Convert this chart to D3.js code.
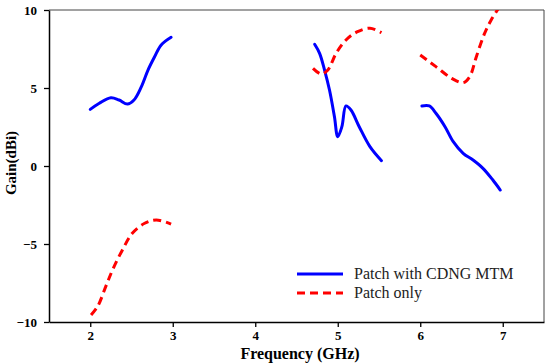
<!DOCTYPE html>
<html>
<head>
<meta charset="utf-8">
<script src="https://cdn.jsdelivr.net/npm/d3@7"></script>
<style>
  body { margin: 0; background: #fff; }
</style>
</head>
<body>
<div id="vis"></div>
<script>
// Patch with CDNG MTM (blue), three measured bands
const mtmBand1 = [[2.0,3.63],[2.11,4.02],[2.25,4.38],[2.35,4.23],[2.45,3.97],[2.53,4.23],[2.62,5.09],[2.70,6.15],[2.78,7.0],[2.86,7.76],[2.98,8.25]];
const mtmBand2 = [[4.72,7.80],[4.78,7.22],[4.84,6.15],[4.90,4.87],[4.96,3.16],[5.00,1.88],[5.05,2.52],[5.10,3.85],[5.16,3.59],[5.26,2.52],[5.39,1.24],[5.53,0.34]];
const mtmBand3 = [[6.02,3.85],[6.11,3.85],[6.19,3.38],[6.30,2.52],[6.40,1.56],[6.52,0.81],[6.64,0.38],[6.76,-0.15],[6.88,-0.90],[6.97,-1.54]];

// Patch only (red dashed)
const patchBand1 = [[2.01,-9.55],[2.09,-9.0],[2.19,-7.7],[2.27,-6.67],[2.39,-5.38],[2.51,-4.31],[2.66,-3.67],[2.80,-3.46],[2.98,-3.72]];
const patchBand2 = [[4.70,6.26],[4.80,5.90],[4.88,6.15],[4.98,7.22],[5.10,8.08],[5.24,8.61],[5.39,8.83],[5.53,8.55]];
const patchBand3 = [[6.00,7.12],[6.19,6.37],[6.38,5.62],[6.52,5.34],[6.60,5.73],[6.68,7.01],[6.78,8.50],[6.86,9.36],[6.96,10.2]];

const xTicks = [2, 3, 4, 5, 6, 7];
const yTicks = [-10, -5, 0, 5, 10];
const legendNames = ["Patch with CDNG MTM", "Patch only"];

const serif = "'Liberation Serif', 'Times New Roman', Times, serif";
const W = 550, H = 363;
const margin = { top: 10, right: 6, bottom: 41, left: 49 };
const width = W - margin.left - margin.right;
const height = H - margin.top - margin.bottom;

const svg = d3.select('#vis').append('svg')
  .attr('width', W).attr('height', H)
  .attr('font-family', serif);

svg.append("defs").append("clipPath").attr("id", "clip")
  .append("rect").attr("width", width).attr("height", height);

const g = svg.append("g").attr("transform", `translate(${margin.left},${margin.top})`);

const x = d3.scaleLinear().domain([1.5, 7.5]).range([0, width]);
const y = d3.scaleLinear().domain([-10, 10]).range([height, 0]);

// frame top/right
g.append("path")
  .attr("d", `M0,0H${width}V${height}`)
  .attr("fill", "none").attr("stroke", "#444").attr("stroke-width", 1);

const gx = g.append("g").attr("transform", `translate(0,${height})`)
  .call(d3.axisBottom(x).tickValues(xTicks).tickFormat(d3.format("d"))
    .tickSize(5).tickSizeOuter(0).tickPadding(4));
const gy = g.append("g")
  .call(d3.axisLeft(y).tickValues(yTicks).tickFormat(d3.format("d"))
    .tickSize(5).tickSizeOuter(0).tickPadding(7));
[gx, gy].forEach(a => {
  a.attr("font-family", serif).attr("font-size", 13).attr("font-weight", "bold");
  a.select(".domain").attr("stroke", "#000").attr("stroke-width", 1.5);
  a.selectAll(".tick line").attr("stroke", "#000").attr("stroke-width", 1.3);
  a.selectAll(".tick text").attr("fill", "#000");
});
gy.selectAll(".tick text").attr("dy", "0.35em");

const line = d3.line().x(d => x(d[0])).y(d => y(d[1])).curve(d3.curveCatmullRom);

const plot = g.append("g").attr("clip-path", "url(#clip)");
[mtmBand1, mtmBand2, mtmBand3].forEach(s => {
  plot.append("path").datum(s).attr("d", line)
    .attr("fill", "none").attr("stroke", "#0000ff").attr("stroke-width", 3)
    .attr("stroke-linecap", "round");
});
[patchBand1, patchBand2, patchBand3].forEach(s => {
  plot.append("path").datum(s).attr("d", line)
    .attr("fill", "none").attr("stroke", "#ff0000").attr("stroke-width", 3)
    .attr("stroke-dasharray", "8,5");
});

// legend
const legend = svg.append("g");
const legendStyles = [
  { color: "#0000ff", dash: null, y: 274 },
  { color: "#ff0000", dash: "8,5", y: 293 }
];
legendNames.forEach((name, i) => {
  const s = legendStyles[i];
  legend.append("line")
    .attr("x1", 297).attr("x2", 343).attr("y1", s.y).attr("y2", s.y)
    .attr("stroke", s.color).attr("stroke-width", 3)
    .attr("stroke-dasharray", s.dash);
  legend.append("text")
    .attr("x", 354).attr("y", s.y + 5)
    .attr("font-size", "16px").attr("fill", "#222")
    .text(name);
});

// axis titles
svg.append("text")
  .attr("x", 300).attr("y", 359)
  .attr("text-anchor", "middle")
  .attr("font-weight", "bold").attr("font-size", "16px")
  .text("Frequency (GHz)");

svg.append("text")
  .attr("transform", "rotate(-90)")
  .attr("x", -163).attr("y", 16)
  .attr("text-anchor", "middle")
  .attr("font-weight", "bold").attr("font-size", "15px")
  .text("Gain(dBi)");
</script>
</body>
</html>
